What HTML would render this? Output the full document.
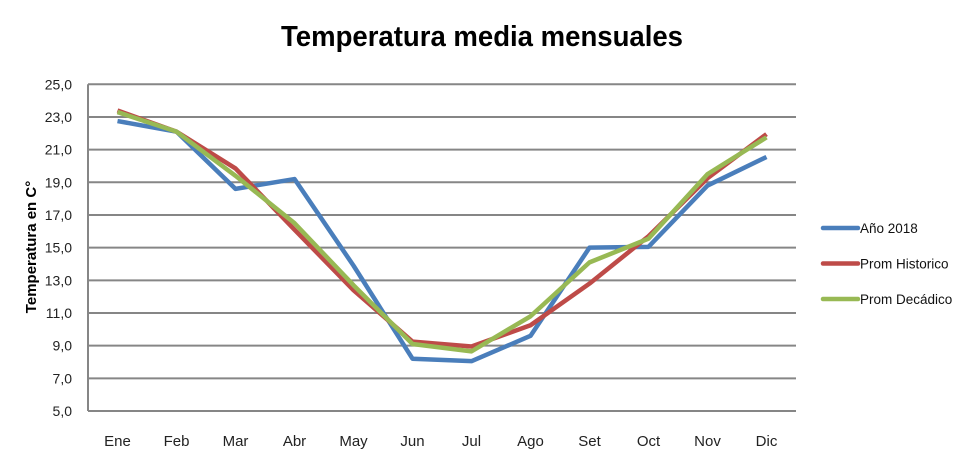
<!DOCTYPE html>
<html><head><meta charset="utf-8"><style>
body{margin:0;background:#fff;}
svg{display:block;font-family:"Liberation Sans",sans-serif;}
</style></head><body>
<svg id="chart" width="963" height="454" viewBox="0 0 963 454">
<text x="482" y="46" text-anchor="middle" font-size="29" font-weight="bold" textLength="402" lengthAdjust="spacingAndGlyphs">Temperatura media mensuales</text>
<text transform="translate(36,247) rotate(-90)" text-anchor="middle" font-size="15" font-weight="bold">Temperatura en C°</text>
<g id="grid"></g><g id="series"></g><g id="legend"></g>
</svg>
<script>
const categories=["Ene","Feb","Mar","Abr","May","Jun","Jul","Ago","Set","Oct","Nov","Dic"];
const ano2018=[22.75,22.1,18.6,19.2,13.9,8.2,8.05,9.6,15.0,15.05,18.8,20.55];
const promHistorico=[23.4,22.1,19.85,16.1,12.4,9.25,8.95,10.25,12.8,15.7,19.25,21.95];
const promDecadico=[23.3,22.1,19.4,16.5,12.7,9.1,8.65,10.8,14.1,15.55,19.5,21.75];
const yTicks=["5,0","7,0","9,0","11,0","13,0","15,0","17,0","19,0","21,0","23,0","25,0"];
const seriesNames=["Año 2018","Prom Historico","Prom Decádico"];
const NS="http://www.w3.org/2000/svg";
const L=88,R=796,T=84.3,B=411,ymin=5,ymax=25;
const x=i=>L+(R-L)/categories.length*(i+0.5);
const y=v=>B-(v-ymin)/(ymax-ymin)*(B-T);
function mk(tag,at,parent){const e=document.createElementNS(NS,tag);for(const k in at)e.setAttribute(k,at[k]);parent.appendChild(e);return e;}
const grid=document.getElementById('grid');
yTicks.forEach(t=>{const v=parseFloat(t.replace(',','.'));
 const ln=mk('line',{x1:L,x2:R,y1:y(v),y2:y(v),stroke:'#868686','stroke-width':2},grid);
 
 
 const tx=mk('text',{x:72,y:y(v)+5,'text-anchor':'end','font-size':14,fill:'#222'},grid);tx.textContent=t;
 
 
});
const lf=mk('line',{x1:L,x2:L,y1:T,y2:B,stroke:'#868686','stroke-width':2},grid);


categories.forEach((c,i)=>{const tx=mk('text',{x:x(i),y:446,'text-anchor':'middle','font-size':15,fill:'#222'},grid);tx.textContent=c;
 
 });
const colors=["#4a7ebb","#be4b48","#98b954"];
const data=[ano2018,promHistorico,promDecadico];
const sg=document.getElementById('series');
data.forEach((d,k)=>{const p=mk('polyline',{points:d.map((v,i)=>x(i)+','+y(v)).join(' '),fill:'none',stroke:colors[k],'stroke-width':4.5,'stroke-linejoin':'round'},sg);
 
 });
const lg=document.getElementById('legend');
seriesNames.forEach((n,k)=>{const yy=228+k*35.5;
 const g=mk('g',{},lg);
 
 
 mk('line',{x1:823,x2:858,y1:yy,y2:yy,stroke:colors[k],'stroke-width':4.5,'stroke-linecap':'round'},g);
 const t=mk('text',{x:860,y:yy+5,'font-size':13.5,fill:'#111'},g);t.textContent=n;});
</script>
</body></html>
